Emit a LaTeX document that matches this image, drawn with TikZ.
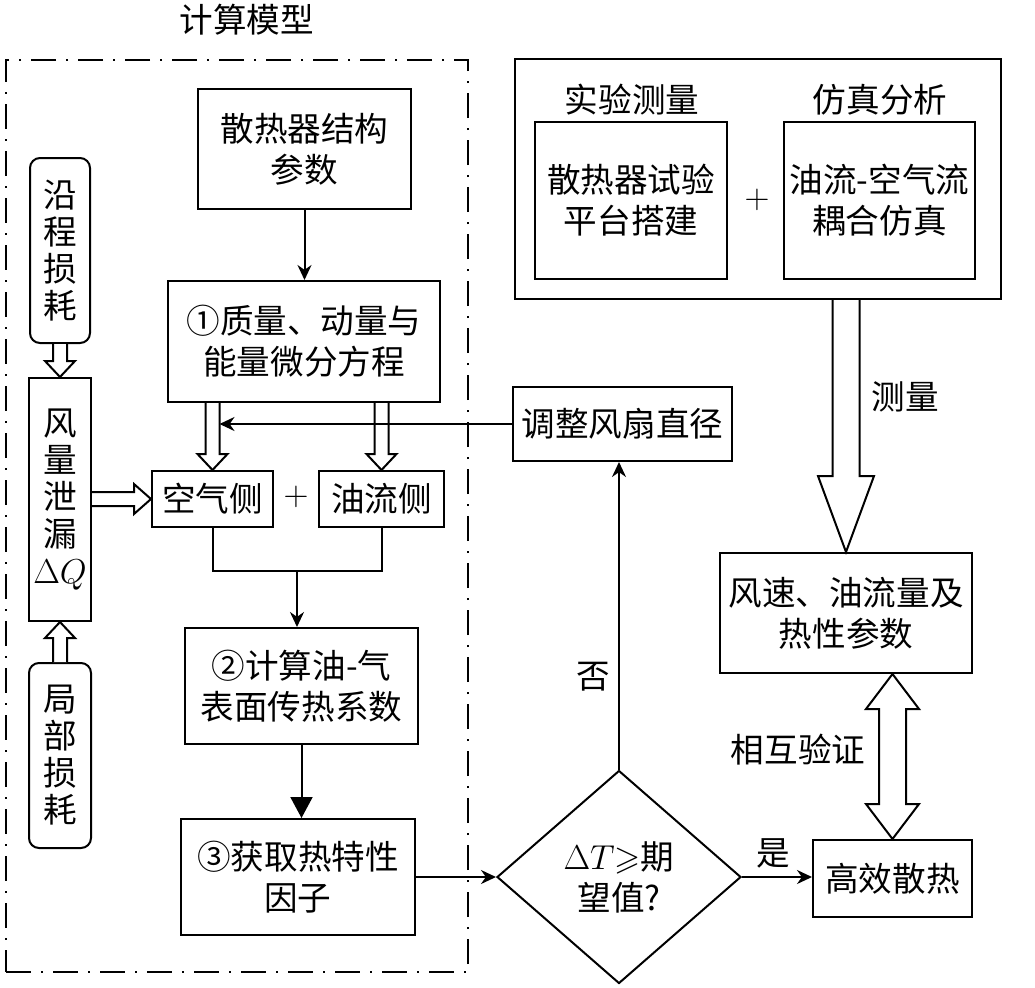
\documentclass[tikz,border=0pt]{standalone}
\usepackage{amsmath,amssymb}
\usepackage{fontspec}
\newfontfamily\hanzi{Noto Sans CJK SC}
\usetikzlibrary{shapes.geometric,arrows.meta,positioning,calc}

% hollow arrow: start, tip, shaft half width, head half width, head length
\newcommand{\hollowarrow}[5]{%
  \path coordinate (hb) at ($(#2)!#5!(#1)$);
  \filldraw[fill=white, line width=1pt, line join=miter]
    ($(#1)!#3!90:(#2)$) -- ($(hb)!#3!-90:(#1)$) -- ($(hb)!#4!-90:(#1)$) -- (#2)
    -- ($(hb)!#4!90:(#1)$) -- ($(hb)!#3!90:(#1)$) -- ($(#1)!#3!-90:(#2)$);
}
% hollow arrow with a head at each end
\newcommand{\hollowdarrow}[5]{%
  \path coordinate (ha) at ($(#1)!#5!(#2)$) coordinate (hb) at ($(#2)!#5!(#1)$);
  \filldraw[fill=white, line width=1pt, line join=miter]
    (#1) -- ($(ha)!#4!90:(hb)$) -- ($(ha)!#3!90:(hb)$) -- ($(hb)!#3!-90:(ha)$)
    -- ($(hb)!#4!-90:(ha)$) -- (#2) -- ($(hb)!#4!90:(ha)$) -- ($(hb)!#3!90:(ha)$)
    -- ($(ha)!#3!-90:(hb)$) -- ($(ha)!#4!-90:(hb)$) -- cycle;
}

\begin{document}
\begin{tikzpicture}[
    x=0.5pt, y=-0.5pt,
    txt/.style={font=\hanzi\fontsize{16.8}{20.5}\selectfont, inner sep=1pt, align=center},
    box/.style={txt, draw, line width=1pt, inner sep=0pt},
    rbox/.style={box, rounded corners=5pt},
    vtext/.style={font=\hanzi\fontsize{16.8}{18.5}\selectfont},
    dia/.style={txt, draw, line width=1pt, diamond, aspect=1.15, inner sep=0pt,
      minimum width=122pt, minimum height=106.5pt},
    frame/.style={draw, line width=1pt, dash pattern=on 12.5pt off 5pt on 1pt off 5pt},
    line/.style={line width=1pt},
    >={Stealth[length=7.5pt, width=7pt]}
]
    \useasboundingbox (0,0) rectangle (1035,987);

    % Calculation model
    \node[frame, minimum width=231pt, minimum height=456pt] (model) at (237,516) {};
    \node[txt] (title) at (247,20) {计算模型};
    \node[box, minimum width=106.5pt, minimum height=60pt] (param) at (304.5,149) {散热器结构\\参数};
    \node[box, minimum width=136pt, minimum height=60.5pt] (eq1) at (304,341.5) {①质量、动量与\\能量微分方程};
    \node[rbox, vtext, minimum width=30pt, minimum height=92.5pt] (loss1) at (60,250.5) {沿\\程\\损\\耗};
    \node[box, vtext, minimum width=31pt, minimum height=121.5pt] (leak) at (60,499.5) {风\\量\\泄\\漏\\$\Delta Q$};
    \node[rbox, vtext, minimum width=31pt, minimum height=92.5pt] (loss2) at (60,755.5) {局\\部\\损\\耗};
    \node[box, minimum width=60.5pt, minimum height=28pt] (air) at (212.5,499) {空气侧};
    \node[box, minimum width=62.5pt, minimum height=28pt] (oil) at (381.5,499) {油流侧};
    \node[txt] (plusA) at (296,497) {$+$};
    \node[box, minimum width=116.5pt, minimum height=58pt] (eq2) at (301.5,686) {②计算油-气\\表面传热系数};
    \node[box, minimum width=117pt, minimum height=58pt] (eq3) at (298,877) {③获取热特性\\因子};

    % Decision and feedback
    \node[dia] (check) at (619,877) {$\Delta T{\geqslant}$期\\望值?};
    \node[box, minimum width=109.5pt, minimum height=37pt] (fan) at (622.5,424) {调整风扇直径};

    % Test and simulation
    \node[box, minimum width=243pt, minimum height=120pt] (lab) at (758,179) {};
    \node[box, minimum width=96pt, minimum height=78.5pt] (test) at (631,200.5) {散热器试验\\平台搭建};
    \node[box, minimum width=95.5pt, minimum height=78.5pt] (sim) at (879.5,200.5) {油流-空气流\\耦合仿真};
    \node[txt] (plusB) at (757,200) {$+$};
    \node[txt] (testlbl) at (632,100) {实验测量};
    \node[txt] (simlbl) at (880,100) {仿真分析};
    \node[box, minimum width=126pt, minimum height=60pt] (meas) at (846,613) {风速、油流量及\\热性参数};
    \node[box, minimum width=79.5pt, minimum height=38.5pt] (eff) at (892.5,878.5) {高效散热};

    % Labels
    \node[txt] (measlbl) at (905,397) {测量};
    \node[txt] (verlbl) at (798,750) {相互验证};
    \node[txt] (nolbl) at (593,677) {否};
    \node[txt] (yeslbl) at (773,853) {是};

    % Hollow arrows
    \hollowarrow{loss1.south}{leak.north}{3.5pt}{7.5pt}{8pt}
    \hollowarrow{loss2.north}{leak.south}{3.5pt}{7.5pt}{8pt}
    \hollowarrow{air.west -| leak.east}{air.west}{3.5pt}{7.5pt}{8.5pt}
    \hollowarrow{eq1.south -| air.north}{air.north}{3.5pt}{7.5pt}{8pt}
    \hollowarrow{eq1.south -| oil.north}{oil.north}{3.5pt}{7.5pt}{8pt}
    \hollowarrow{lab.south -| meas.north}{meas.north}{6.75pt}{14pt}{38pt}
    \hollowdarrow{eff.north}{eff.north |- meas.south}{6.75pt}{13.25pt}{17.5pt}

    % Connectors
    \draw[line, ->] (param.south) -- (param.south |- eq1.north);
    \coordinate (jn) at ($(air.south)!0.5!(oil.south)+(0,43)$);
    \draw[line] (air.south) -- (air.south |- jn) -| (oil.south);
    \draw[line, ->] (jn) -- (jn |- eq2.north);
    \draw[line, -{Triangle[length=10.5pt, width=11pt]}] (eq2.south) -- (eq2.south |- eq3.north);
    \draw[line, ->] (eq3.east) -- (check.west);
    \draw[line, ->] (check.north) -- (check.north |- fan.south);
    \coordinate (fb) at ($(air.north |- fan.west)+(7,0)$);
    \draw[line, ->] (fan.west) -- (fb);
    \draw[line, ->] (check.east) -- (check.east -| eff.west);
\end{tikzpicture}
\end{document}
